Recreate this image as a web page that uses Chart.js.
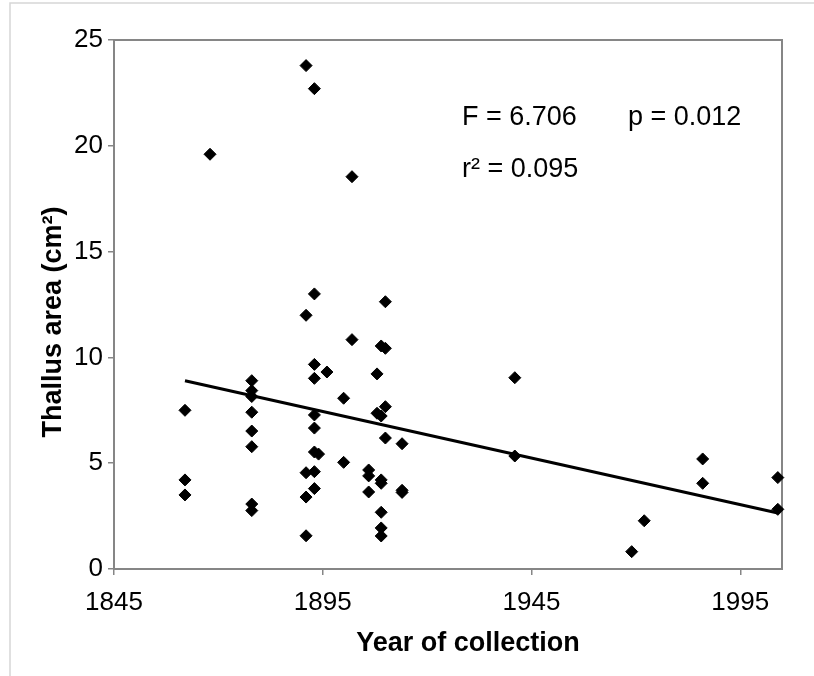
<!DOCTYPE html>
<html lang="en">
<head>
<meta charset="UTF-8">
<title>Thallus area by year of collection</title>
<script src="https://cdn.jsdelivr.net/npm/chart.js"></script>
<style>
  body { margin: 0; background: #fff; }
</style>
</head>
<body>
<canvas id="myChart" width="814" height="676"></canvas>
<script>
  // one entry per specimen: year of collection and thallus area (cm2)
  const years = [
    1862, 1862, 1862,
    1868,
    1878, 1878, 1878, 1878, 1878, 1878, 1878, 1878,
    1891, 1891, 1891, 1891, 1891,
    1893, 1893, 1893, 1893, 1893, 1893, 1893, 1893, 1893,
    1894, 1896,
    1900, 1900,
    1902, 1902,
    1906, 1906, 1906,
    1908, 1908,
    1909, 1909, 1909, 1909, 1909, 1909, 1909,
    1910, 1910, 1910, 1910,
    1914, 1914, 1914,
    1941, 1941,
    1969, 1972,
    1986, 1986,
    2004, 2004
  ];
  const areas = [
    7.50, 4.21, 3.50,
    19.60,
    8.90, 8.43, 8.15, 7.41, 6.52, 5.78, 3.07, 2.76,
    23.79, 11.99, 4.55, 3.40, 1.57,
    22.70, 13.00, 9.67, 9.01, 7.28, 6.66, 5.53, 4.60, 3.80,
    5.43, 9.31,
    8.07, 5.04,
    18.54, 10.84,
    4.68, 4.40, 3.64,
    9.22, 7.36,
    10.54, 7.23, 4.21, 4.05, 2.68, 1.94, 1.56,
    12.63, 10.43, 7.67, 6.19,
    5.92, 3.72, 3.62,
    9.04, 5.34,
    0.82, 2.28,
    5.20, 4.05,
    4.32, 2.82
  ];

  // fitted line, end points
  const trendYears = [1862, 2004];
  const trendAreas = [8.90, 2.65];

  const xTicks = [1845, 1895, 1945, 1995];
  const yTicks = [0, 5, 10, 15, 20, 25];

  const xTitle = 'Year of collection';
  const yTitle = 'Thallus area (cm²)';
  const statF = 'F = 6.706';
  const statP = 'p = 0.012';
  const statR = 'r² = 0.095';

  const font = '"Liberation Sans", Arial, sans-serif';
  const axisGrey = '#868686';

  const extras = {
    id: 'extras',
    beforeDraw(chart) {
      const ctx = chart.ctx;
      ctx.save();
      ctx.fillStyle = '#fff';
      ctx.fillRect(0, 0, chart.width, chart.height);
      // light outer frame of the figure
      ctx.strokeStyle = '#d6d6d6';
      ctx.lineWidth = 1.5;
      ctx.beginPath();
      ctx.moveTo(10, chart.height);
      ctx.lineTo(10, 3);
      ctx.lineTo(chart.width, 3);
      ctx.stroke();
      ctx.restore();
    },
    beforeDatasetsDraw(chart) {
      const { ctx, chartArea: a } = chart;
      ctx.save();
      ctx.strokeStyle = axisGrey;
      ctx.lineWidth = 2;
      ctx.strokeRect(a.left, a.top, a.right - a.left, a.bottom - a.top);
      ctx.restore();
    },
    afterDraw(chart) {
      const ctx = chart.ctx;
      ctx.save();
      ctx.fillStyle = '#000';
      ctx.textBaseline = 'middle';

      ctx.font = '27px ' + font;
      ctx.textAlign = 'left';
      ctx.fillText(statF, 462, 118);
      ctx.fillText(statP, 628, 118);
      ctx.fillText(statR, 462, 170);

      ctx.font = 'bold 27px ' + font;
      ctx.textAlign = 'center';
      ctx.fillText(xTitle, 468, 644);

      ctx.translate(54, 322);
      ctx.rotate(-Math.PI / 2);
      ctx.fillText(yTitle, 0, 0);
      ctx.restore();
    }
  };

  const ctx = document.getElementById('myChart').getContext('2d');
  const myChart = new Chart(ctx, {
    type: 'scatter',
    data: {
      datasets: [{
        label: 'Specimens',
        data: years.map((y, i) => ({ x: y, y: areas[i] })),
        pointStyle: 'rectRot',
        pointRadius: 6,
        backgroundColor: '#000',
        borderColor: '#000',
        borderWidth: 1,
        clip: false
      }, {
        label: 'Regression',
        data: trendYears.map((y, i) => ({ x: y, y: trendAreas[i] })),
        showLine: true,
        borderColor: '#000',
        borderWidth: 3,
        pointRadius: 0,
        fill: false,
        clip: false
      }]
    },
    options: {
      responsive: false,
      animation: false,
      layout: { padding: { top: 40, right: 32, left: 0, bottom: 0 } },
      plugins: {
        legend: { display: false },
        tooltip: { enabled: false }
      },
      scales: {
        x: {
          type: 'linear',
          min: 1845,
          max: 2005,
          afterBuildTicks: s => { s.ticks = xTicks.map(v => ({ value: v })); },
          afterFit: s => { s.height = 107; },
          ticks: {
            color: '#000',
            font: { family: font, size: 26 },
            padding: 12,
            maxRotation: 0,
            autoSkip: false,
            callback: v => String(v)
          },
          grid: { drawOnChartArea: false, drawTicks: true, tickLength: 6, color: axisGrey, lineWidth: 1.5 },
          border: { color: axisGrey, width: 2 }
        },
        y: {
          min: 0,
          max: 25,
          afterBuildTicks: s => { s.ticks = yTicks.map(v => ({ value: v })); },
          afterFit: s => { s.width = 114; },
          ticks: {
            color: '#000',
            font: { family: font, size: 26 },
            padding: 5,
            autoSkip: false,
            callback: v => String(v)
          },
          grid: { drawOnChartArea: false, drawTicks: true, tickLength: 6, color: axisGrey, lineWidth: 1.5 },
          border: { color: axisGrey, width: 2 }
        }
      }
    },
    plugins: [extras]
  });
</script>
</body>
</html>
